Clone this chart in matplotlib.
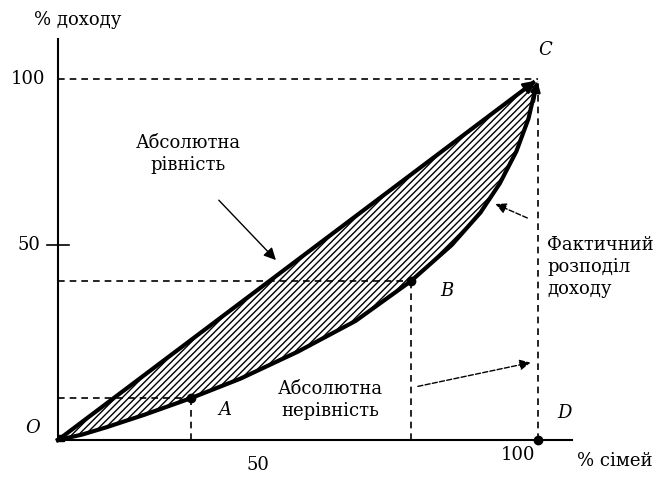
import matplotlib.pyplot as plt

plt.rcParams['font.family'] = ['DejaVu Serif']
plt.rcParams['hatch.linewidth'] = 1.0

# Lorenz curve (% of families vs % of income)
curve_x = [0, 5, 10, 18, 27.7, 38, 50, 62, 73.5, 82, 88, 92, 95.5, 98, 100]
curve_y = [0, 1.5, 3.5, 7, 11.6, 17, 24.5, 33, 44, 54, 63, 71, 80, 89, 100]
equal_x = [0, 100]
equal_y = [0, 100]

point_a = (27.7, 11.6)
point_b = (73.5, 44)
point_c = (100, 100)
point_d = (100, 0)

fig = plt.figure(figsize=(6.71, 4.82), dpi=100)
ax = fig.add_axes([0, 0, 1, 1])
ax.set_xlim(-12.08, 127.7)
ax.set_ylim(-11.63, 121.9)
ax.axis('off')

# hatched area between equality line and Lorenz curve
ax.fill_between(curve_x, curve_x, curve_y, facecolor='white',
                edgecolor='black', hatch='/////', linewidth=0)

# axes
ax.plot([0, 0], [0, 111], c='black', lw=1.5)
ax.plot([0, 107], [0, 0], c='black', lw=1.5)
ax.plot([-2.3, 2.3], [54, 54], c='black', lw=1.2)

# dashed helper lines
dash = (0, (4, 3))
ax.plot([0, point_c[0]], [100, 100], c='black', lw=1.2, ls=dash)
ax.plot([100, 100], [0, 100], c='black', lw=1.2, ls=dash)
ax.plot([0, point_b[0]], [point_b[1], point_b[1]], c='black', lw=1.2, ls=dash)
ax.plot([point_b[0], point_b[0]], [0, point_b[1]], c='black', lw=1.2, ls=dash)
ax.plot([0, point_a[0]], [point_a[1], point_a[1]], c='black', lw=1.2, ls=dash)
ax.plot([point_a[0], point_a[0]], [0, point_a[1]], c='black', lw=1.2, ls=dash)

# equality line and Lorenz curve with arrow heads at C
ax.plot(equal_x[:1] + [99], equal_y[:1] + [99], c='black', lw=3)
ax.plot(curve_x[:-1] + [99.4], curve_y[:-1] + [97], c='black', lw=3,
        solid_joinstyle='round')
ax.annotate('', xy=point_c, xytext=(96, 96),
            arrowprops=dict(arrowstyle='-|>', color='black', lw=2,
                            mutation_scale=18))
ax.annotate('', xy=point_c, xytext=(99, 93),
            arrowprops=dict(arrowstyle='-|>', color='black', lw=2,
                            mutation_scale=14))

# points
for p in [point_a, point_b, point_d]:
    ax.plot(p[0], p[1], 'o', c='black', ms=6)
ax.plot(0.6, 0.6, 's', c='black', ms=4)

# pointer arrows
ax.annotate('', xy=(45.8, 49.3), xytext=(33.1, 67.0),
            arrowprops=dict(arrowstyle='-|>', color='black', lw=1,
                            mutation_scale=18))
ax.annotate('', xy=(90.6, 65.7), xytext=(98.3, 61.2),
            arrowprops=dict(arrowstyle='-|>', color='black', lw=1,
                            linestyle='--', mutation_scale=16))
ax.annotate('', xy=(99, 21.6), xytext=(74.4, 14.7),
            arrowprops=dict(arrowstyle='-|>', color='black', lw=1,
                            linestyle='--', mutation_scale=16))

# texts
fs = 13
ax.text(4.2, 116.3, '% доходу', fontsize=fs, ha='center', va='center')
ax.text(-2.7, 100, '100', fontsize=fs, ha='right', va='center')
ax.text(-3.6, 54, '50', fontsize=fs, ha='right', va='center')
ax.text(41.7, -6.9, '50', fontsize=fs, ha='center', va='center')
ax.text(95.8, -4.2, '100', fontsize=fs, ha='center', va='center')
ax.text(116, -5.8, '% сімей', fontsize=fs, ha='center', va='center')

ax.text(-5.2, 3.3, 'O', fontsize=fs, style='italic', ha='center', va='center')
ax.text(34.8, 8.3, 'A', fontsize=fs, style='italic', ha='center', va='center')
ax.text(81, 41.3, 'B', fontsize=fs, style='italic', ha='center', va='center')
ax.text(101.5, 108, 'C', fontsize=fs, style='italic', ha='center', va='center')
ax.text(105.6, 7.5, 'D', fontsize=fs, style='italic', ha='center', va='center')

ax.text(27.1, 79.2, 'Абсолютна\nрівність', fontsize=fs, ha='center',
        va='center', linespacing=1.3)
ax.text(101.9, 47.9, 'Фактичний\nрозподіл\nдоходу', fontsize=fs, ha='left',
        va='center', linespacing=1.3)
ax.text(56.7, 11.1, 'Абсолютна\nнерівність', fontsize=fs, ha='center',
        va='center', linespacing=1.3)

fig.savefig('out.png', dpi=100)
